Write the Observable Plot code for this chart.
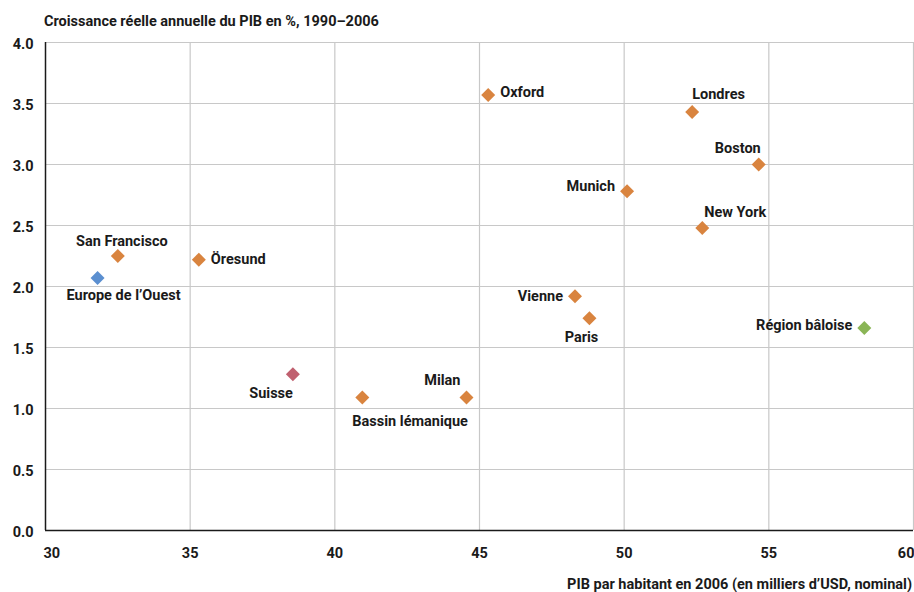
<!DOCTYPE html>
<html>
<head>
<meta charset="utf-8">
<script src="https://cdn.jsdelivr.net/npm/d3@7"></script>
<script src="https://cdn.jsdelivr.net/npm/@observablehq/plot@0.6"></script>
<style>
  body { margin: 0; background: #fff; font-family: Roboto, "Noto Sans", sans-serif; }
  #title { height: 32px; box-sizing: border-box; padding: 13px 0 0 44px; font-size: 14.5px; font-weight: bold; color: #1a1a1a; line-height: 17px; }
  svg { display: block; overflow: visible; }
</style>
</head>
<body>
<div id="title">Croissance réelle annuelle du PIB en %, 1990–2006</div>
<div id="chart"></div>
<script>
const regions = ["Europe de l’Ouest", "San Francisco", "Öresund", "Suisse", "Bassin lémanique", "Milan", "Oxford", "Londres", "Boston", "Munich", "New York", "Vienne", "Paris", "Région bâloise"];
const gdpPerCapita = [31.8, 32.5, 35.3, 38.55, 40.95, 44.55, 45.3, 52.35, 54.65, 50.1, 52.7, 48.3, 48.8, 58.3];
const growth = [2.07, 2.25, 2.22, 1.28, 1.09, 1.09, 3.57, 3.43, 3.0, 2.78, 2.48, 1.92, 1.74, 1.66];
const groups = ["europe", "region", "region", "suisse", "region", "region", "region", "region", "region", "region", "region", "region", "region", "bale"];
const xTicks = [30, 35, 40, 45, 50, 55, 60];
const yTicks = [0, 0.5, 1, 1.5, 2, 2.5, 3, 3.5, 4];

// label placement (layout, kept separate from the data)
const labelLayout = {
  "Europe de l’Ouest": {anchor: "middle", dx: 26, dy: 17},
  "San Francisco": {anchor: "middle", dx: 4, dy: -15},
  "Öresund": {anchor: "start", dx: 12, dy: 0},
  "Suisse": {anchor: "end", dx: 0, dy: 19},
  "Bassin lémanique": {anchor: "start", dx: -10, dy: 24},
  "Milan": {anchor: "end", dx: -6, dy: -17},
  "Oxford": {anchor: "start", dx: 12, dy: -3},
  "Londres": {anchor: "start", dx: 0, dy: -18},
  "Boston": {anchor: "end", dx: 2, dy: -16},
  "Munich": {anchor: "end", dx: -12, dy: -5},
  "New York": {anchor: "start", dx: 2, dy: -16},
  "Vienne": {anchor: "end", dx: -12, dy: 0},
  "Paris": {anchor: "middle", dx: -8, dy: 19},
  "Région bâloise": {anchor: "end", dx: -12, dy: -3}
};

const data = regions.map((name, i) => ({name, x: gdpPerCapita[i], y: growth[i], group: groups[i]}));

const FS = 14.5;

const labelMarks = data.map(d => Plot.text([d], {
  x: "x", y: "y", text: "name",
  textAnchor: labelLayout[d.name].anchor,
  dx: labelLayout[d.name].dx, dy: labelLayout[d.name].dy,
  fill: "#1a1a1a", fontWeight: "bold", fontSize: FS
}));

const chart = Plot.plot({
  width: 914,
  height: 560,
  marginTop: 10,
  marginLeft: 45,
  marginRight: 1,
  marginBottom: 62,
  style: {fontFamily: "Roboto, 'Noto Sans', sans-serif", fontSize: FS + "px", color: "#1a1a1a", background: "#fff"},
  x: {domain: [30, 60], ticks: xTicks},
  y: {domain: [0, 4], ticks: yTicks},
  color: {
    domain: ["region", "europe", "suisse", "bale"],
    range: ["#d9843f", "#5b8fd0", "#c0606f", "#8ab556"]
  },
  marks: [
    Plot.gridX(xTicks.slice(1), {stroke: "#c8c8c8", strokeOpacity: 1, strokeWidth: 1.2}),
    Plot.gridY(yTicks.slice(1), {stroke: "#c8c8c8", strokeOpacity: 1, strokeWidth: 1.2}),
    Plot.ruleX([30], {stroke: "#1a1a1a", strokeWidth: 1.5}),
    Plot.ruleY([0], {stroke: "#1a1a1a", strokeWidth: 1.5}),
    Plot.axisY({ticks: yTicks, tickSize: 0, tickPadding: 12, dy: 2, tickFormat: d3.format(".1f"), fontWeight: "bold", fontSize: FS, label: null}),
    Plot.axisX({ticks: xTicks.slice(1, -1), tickSize: 0, tickPadding: 17, fontWeight: "bold", fontSize: FS, label: null}),
    Plot.axisX({ticks: [30], tickSize: 0, tickPadding: 17, textAnchor: "start", dx: -2, fontWeight: "bold", fontSize: FS, label: null}),
    Plot.axisX({ticks: [60], tickSize: 0, tickPadding: 17, textAnchor: "end", dx: 1, fontWeight: "bold", fontSize: FS, label: null}),
    Plot.dot(data, {x: "x", y: "y", symbol: "diamond2", r: 6.3, fill: "group", stroke: null}),
    ...labelMarks
  ]
});

// x-axis title, bottom right
d3.select(chart).append("text")
  .attr("x", 912).attr("y", 557)
  .attr("text-anchor", "end")
  .attr("font-weight", "bold").attr("font-size", FS).attr("fill", "#1a1a1a")
  .text("PIB par habitant en 2006 (en milliers d’USD, nominal)");

document.getElementById("chart").append(chart);
</script>
</body>
</html>
